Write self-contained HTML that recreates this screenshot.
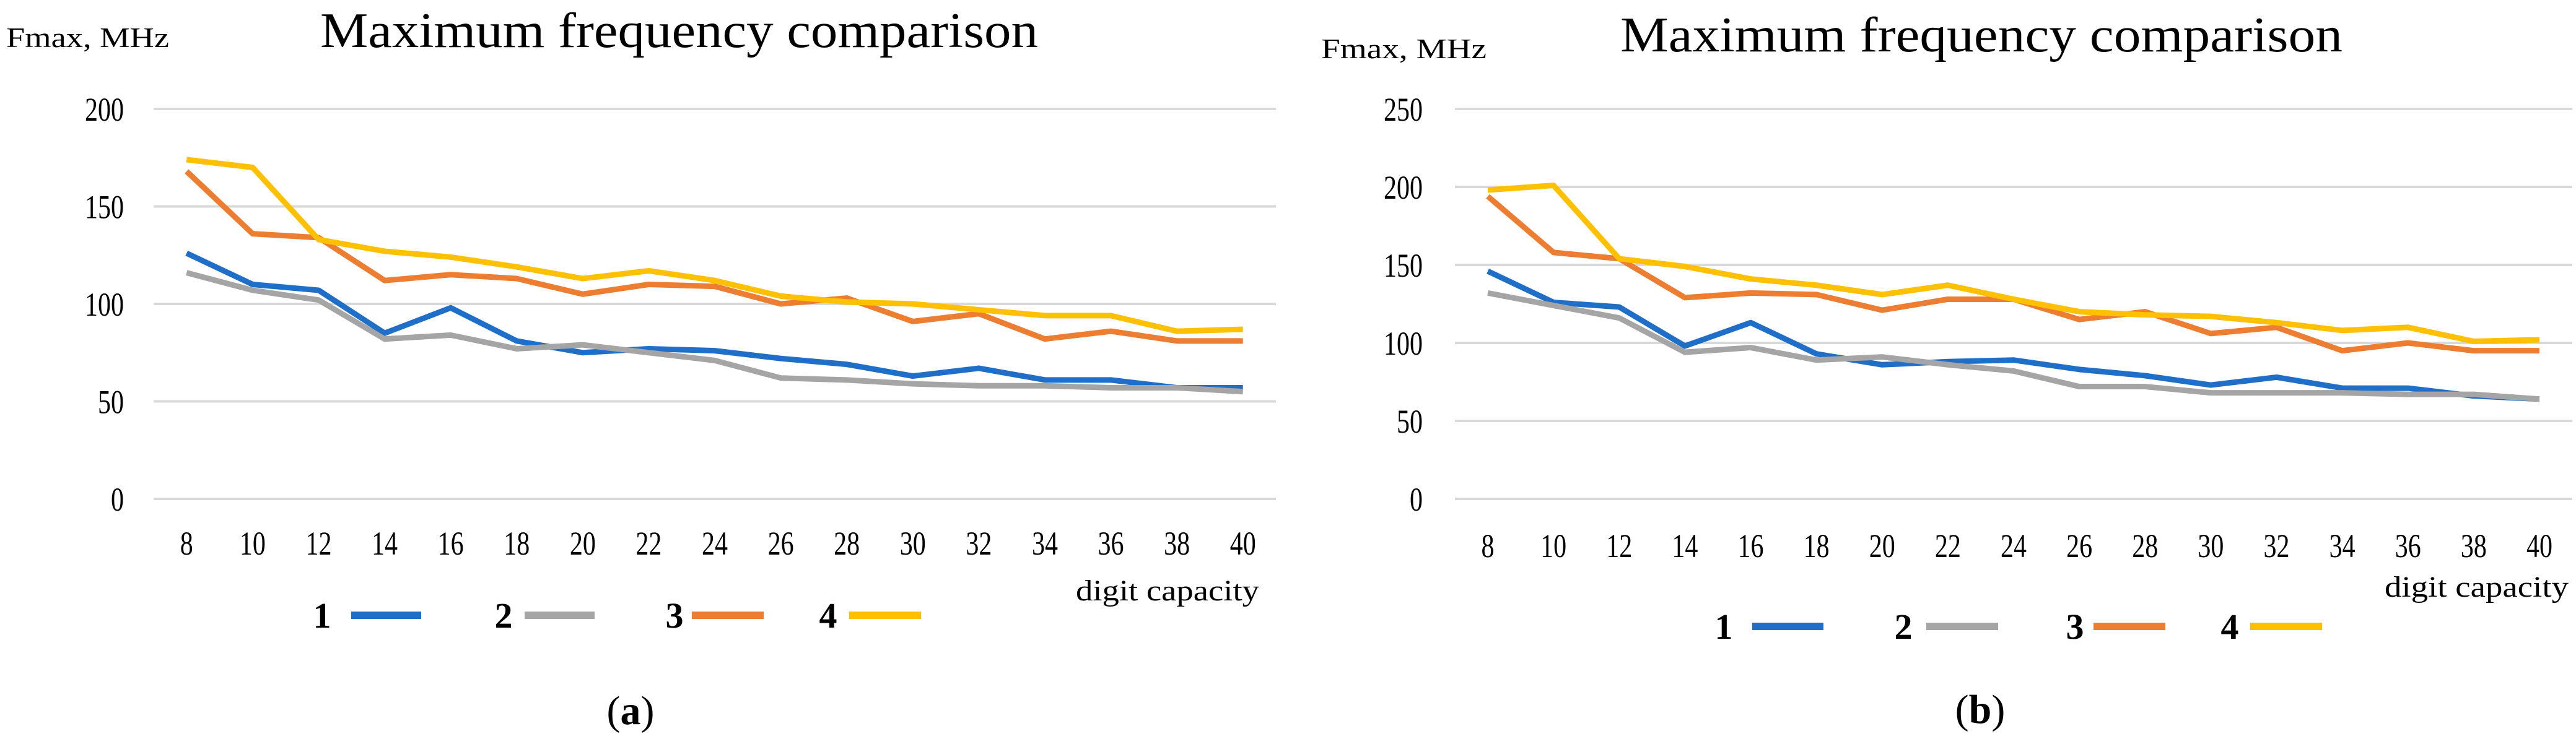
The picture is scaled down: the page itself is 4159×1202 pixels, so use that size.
<!DOCTYPE html>
<html><head><meta charset="utf-8"><style>
html,body{margin:0;padding:0;background:#fff;}
svg{display:block;font-family:"Liberation Serif",serif;}
</style></head><body>
<svg id="fig" width="4159" height="1202" viewBox="0 0 4159 1202" xmlns="http://www.w3.org/2000/svg">
<g id="panel-a"></g>
<g id="panel-b"></g>
</svg>
<script>
const categories = [8,10,12,14,16,18,20,22,24,26,28,30,32,34,36,38,40];
const seriesNames = ['1','2','3','4'];
const seriesColors = ['#1F6FC8','#A5A5A5','#ED7D31','#FFC000'];
const aSeries1 = [126,110,107,85,98,81,75,77,76,72,69,63,67,61,61,57,57];
const aSeries2 = [116,107,102,82,84,77,79,75,71,62,61,59,58,58,57,57,55];
const aSeries3 = [168,136,134,112,115,113,105,110,109,100,103,91,95,82,86,81,81];
const aSeries4 = [174,170,133,127,124,119,113,117,112,104,101,100,97,94,94,86,87];
const aTicks = [0,50,100,150,200];
const bSeries1 = [146,126,123,98,113,93,86,88,89,83,79,73,78,71,71,66,64];
const bSeries2 = [132,124,116,94,97,89,91,86,82,72,72,68,68,68,67,67,64];
const bSeries3 = [194,158,154,129,132,131,121,128,128,115,120,106,110,95,100,95,95];
const bSeries4 = [198,201,154,149,141,137,131,137,128,120,118,117,113,108,110,101,102];
const bTicks = [0,50,100,150,200,250];

const NS='http://www.w3.org/2000/svg';
function mk(parent,tag,attrs,text){
  const e=document.createElementNS(NS,tag);
  for(const k in attrs) e.setAttribute(k,attrs[k]);
  if(text!==undefined) e.textContent=text;
  parent.appendChild(e); return e;
}
function draw(cfg){
  const g=document.getElementById(cfg.id);
  const max=cfg.ticks[cfg.ticks.length-1];
  const y=v=>cfg.y0-(v/max)*(cfg.y0-cfg.yTop);
  const step=(cfg.x1-cfg.x0)/categories.length;
  const x=i=>cfg.x0+step*(i+0.5);
  cfg.ticks.forEach(t=>{
    const l=mk(g,'line',{x1:cfg.x0,x2:cfg.x1,y1:y(t),y2:y(t),stroke:'#d9d9d9','stroke-width':4});
    
    
    const s=String(t);
    const tx=mk(g,'text',{x:cfg.yLabX,y:y(t)+19,'text-anchor':'end','font-size':54,fill:'#000',textLength:s.length*21,lengthAdjust:'spacingAndGlyphs'},s);
    
    
  });
  categories.forEach((c,i)=>{
    const s=String(c);
    const tx=mk(g,'text',{x:x(i),y:cfg.xLabY+4,'text-anchor':'middle','font-size':54,fill:'#000',textLength:s.length*21,lengthAdjust:'spacingAndGlyphs'},s);
    
    
  });
  cfg.series.forEach((s,k)=>{
    const p=mk(g,'polyline',{points:s.map((v,i)=>x(i)+','+y(v)).join(' '),fill:'none',stroke:seriesColors[k],'stroke-width':9,'stroke-linejoin':'round'});
    
    
  });
  const t=mk(g,'text',{x:cfg.title[0],y:cfg.title[1],'font-size':80,fill:'#000',textLength:cfg.title[2],lengthAdjust:'spacingAndGlyphs'},'Maximum frequency comparison');
  
  
  const ya=mk(g,'text',{x:cfg.yTitle[0],y:cfg.yTitle[1],'font-size':46,fill:'#000',textLength:cfg.yTitle[2],lengthAdjust:'spacingAndGlyphs'},'Fmax, MHz');
  
  
  const xa=mk(g,'text',{x:cfg.xTitle[0],y:cfg.xTitle[1],'font-size':48,fill:'#000',textLength:cfg.xTitle[2],lengthAdjust:'spacingAndGlyphs'},'digit capacity');
  
  
  cfg.legend.forEach((L,k)=>{
    const lt=mk(g,'text',{x:L[0],y:cfg.legY+20,'text-anchor':'middle','font-size':58,'font-weight':'bold',fill:'#000'},seriesNames[k]);
    
    
    const ll=mk(g,'line',{x1:L[1],x2:L[2],y1:cfg.legY,y2:cfg.legY,stroke:seriesColors[k],'stroke-width':12});
    
    
  });
  const cap=mk(g,'text',{x:cfg.cap[0],y:cfg.cap[1]+22,'text-anchor':'middle','font-size':66,fill:'#000'});
  
  
  mk(cap,'tspan',{},'(');
  mk(cap,'tspan',{'font-weight':'bold'},cfg.letter);
  mk(cap,'tspan',{},')');
}
draw({id:'panel-a',ticks:aTicks,series:[aSeries1,aSeries2,aSeries3,aSeries4],
  x0:248,x1:2060,y0:806,yTop:176,yLabX:200,xLabY:892,
  title:[517,76,1159],yTitle:[10,76,263],xTitle:[1737,970,296],
  legY:994,legend:[[520,567,680],[813,847,960],[1089,1117,1233],[1337,1371,1487]],
  cap:[1018,1148],letter:'a'});
draw({id:'panel-b',ticks:bTicks,series:[bSeries1,bSeries2,bSeries3,bSeries4],
  x0:2349,x1:4153,y0:806,yTop:176,yLabX:2297,xLabY:896,
  title:[2616,83,1166],yTitle:[2133,94,267],xTitle:[3850,964,297],
  legY:1012,legend:[[2783,2829,2944],[3073,3110,3226],[3350,3380,3496],[3600,3633,3749]],
  cap:[3197,1146],letter:'b'});
</script>
</body></html>
